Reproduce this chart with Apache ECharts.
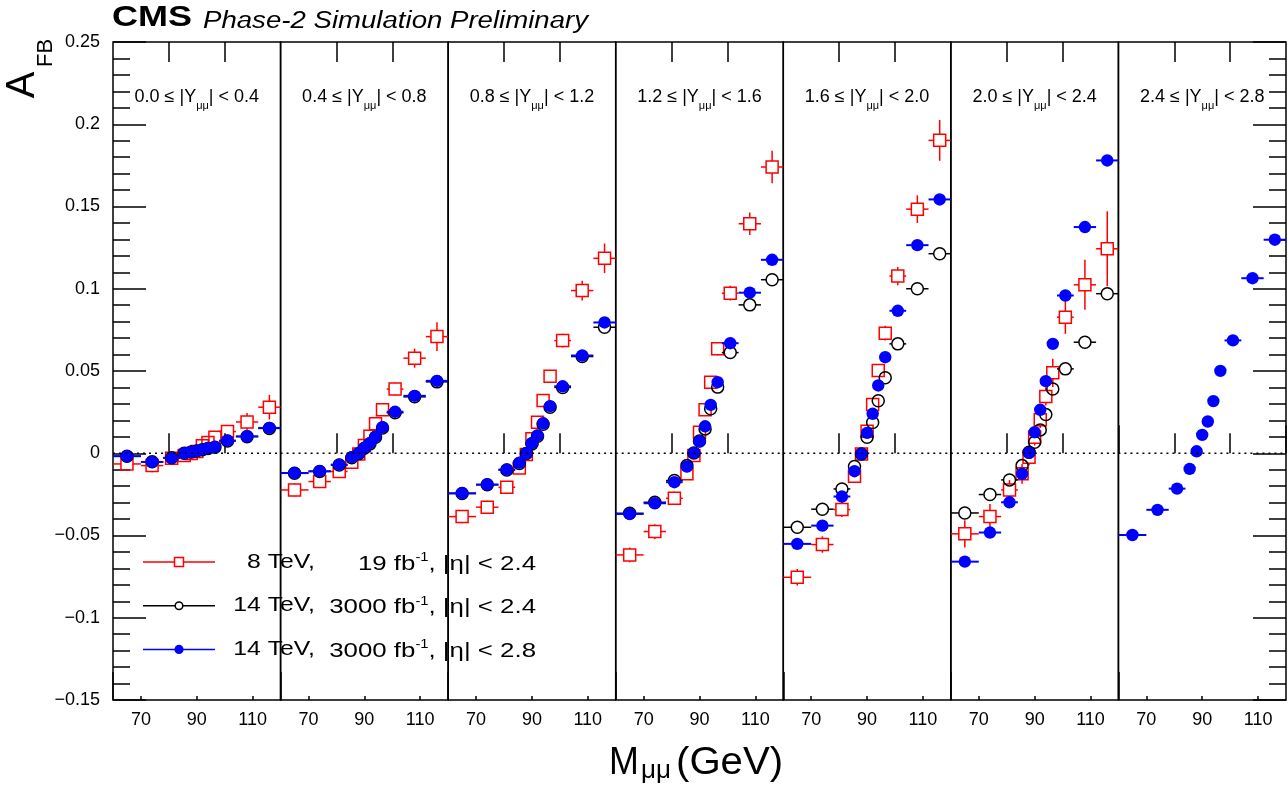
<!DOCTYPE html>
<html>
<head>
<meta charset="utf-8">
<title>CMS Phase-2 AFB</title>
<script src="https://cdn.jsdelivr.net/npm/echarts@6/dist/echarts.min.js"></script>
<style>
  html, body { margin: 0; padding: 0; background: #fff; }
  #chart { width: 1288px; height: 788px; }
</style>
</head>
<body>
<div id="chart"></div>
<script>
// mass binning, identical in every rapidity slice
var massEdges = [60, 70, 78, 84, 87, 89, 91, 93, 95, 98, 104, 112, 120];
var massCenters = [65, 74, 81, 85.5, 88, 90, 92, 94, 96.5, 101, 108, 116];

// rapidity slices
var rapLow = ['0.0', '0.4', '0.8', '1.2', '1.6', '2.0', '2.4'];
var rapHigh = ['0.4', '0.8', '1.2', '1.6', '2.0', '2.4', '2.8'];

// 8 TeV, 19 fb-1, |eta| < 2.4 (slices 1-6)
var afb8 = [
  [-0.0065, -0.0075, -0.0030, -0.0014, -0.0002, 0.0010, 0.0045, 0.0065, 0.0098, 0.0132, 0.0190, 0.0280],
  [-0.0223, -0.0172, -0.0111, -0.0055, -0.0004, 0.0047, 0.0103, 0.0179, 0.0264, 0.0390, 0.0578, 0.0709],
  [-0.0385, -0.0328, -0.0207, -0.0089, -0.0008, 0.0088, 0.0189, 0.0320, 0.0468, 0.0685, 0.0989, 0.1185],
  [-0.0618, -0.0476, -0.0274, -0.0125, -0.0014, 0.0128, 0.0264, 0.0432, 0.0635, 0.0973, 0.1395, 0.1740],
  [-0.0754, -0.0555, -0.0342, -0.0140, -0.0004, 0.0134, 0.0296, 0.0503, 0.0730, 0.1077, 0.1484, 0.1902],
  [-0.0490, -0.0385, -0.0223, -0.0125, -0.0024, 0.0097, 0.0203, 0.0345, 0.0489, 0.0827, 0.1024, 0.1243]
];
var afb8Err = [
  [0.0040, 0.0040, 0.0035, 0.0035, 0.0035, 0.0035, 0.0035, 0.0035, 0.0035, 0.0040, 0.0055, 0.0075],
  [0.0040, 0.0040, 0.0035, 0.0035, 0.0035, 0.0035, 0.0035, 0.0035, 0.0035, 0.0040, 0.0058, 0.0088],
  [0.0040, 0.0040, 0.0035, 0.0035, 0.0035, 0.0035, 0.0035, 0.0035, 0.0035, 0.0042, 0.0060, 0.0090],
  [0.0045, 0.0045, 0.0040, 0.0035, 0.0035, 0.0035, 0.0035, 0.0035, 0.0040, 0.0045, 0.0068, 0.0099],
  [0.0050, 0.0050, 0.0045, 0.0040, 0.0040, 0.0040, 0.0040, 0.0040, 0.0045, 0.0055, 0.0084, 0.0124],
  [0.0083, 0.0076, 0.0060, 0.0060, 0.0050, 0.0050, 0.0050, 0.0055, 0.0086, 0.0101, 0.0152, 0.0228]
];

// 14 TeV, 3000 fb-1, |eta| < 2.4 (slices 1-6)
var afb14 = [
  [-0.0018, -0.0052, -0.0027, 0.0000, 0.0007, 0.0014, 0.0021, 0.0029, 0.0037, 0.0075, 0.0101, 0.0151],
  [-0.0122, -0.0111, -0.0072, -0.0027, -0.0003, 0.0030, 0.0057, 0.0097, 0.0153, 0.0246, 0.0343, 0.0434],
  [-0.0245, -0.0192, -0.0102, -0.0062, -0.0002, 0.0057, 0.0103, 0.0176, 0.0280, 0.0400, 0.0588, 0.0766],
  [-0.0365, -0.0298, -0.0166, -0.0075, 0.0002, 0.0075, 0.0148, 0.0270, 0.0402, 0.0612, 0.0902, 0.1055],
  [-0.0450, -0.0340, -0.0217, -0.0081, -0.0004, 0.0097, 0.0187, 0.0319, 0.0459, 0.0665, 0.1000, 0.1213],
  [-0.0363, -0.0251, -0.0162, -0.0075, 0.0006, 0.0067, 0.0142, 0.0235, 0.0391, 0.0513, 0.0675, 0.0970]
];

// 14 TeV, 3000 fb-1, |eta| < 2.8 (slices 1-7)
var afb14Wide = [
  [-0.0018, -0.0053, -0.0028, 0.0000, 0.0008, 0.0015, 0.0022, 0.0030, 0.0038, 0.0077, 0.0103, 0.0154],
  [-0.0120, -0.0109, -0.0069, -0.0024, 0.0000, 0.0033, 0.0061, 0.0101, 0.0158, 0.0252, 0.0349, 0.0440],
  [-0.0243, -0.0190, -0.0099, -0.0058, 0.0000, 0.0061, 0.0108, 0.0182, 0.0286, 0.0407, 0.0594, 0.0795],
  [-0.0369, -0.0304, -0.0176, -0.0081, 0.0002, 0.0073, 0.0164, 0.0294, 0.0432, 0.0669, 0.0976, 0.1176],
  [-0.0551, -0.0440, -0.0263, -0.0109, -0.0004, 0.0124, 0.0240, 0.0412, 0.0584, 0.0866, 0.1265, 0.1543],
  [-0.0659, -0.0482, -0.0298, -0.0125, 0.0002, 0.0128, 0.0264, 0.0438, 0.0665, 0.0959, 0.1375, 0.1780],
  [-0.0497, -0.0344, -0.0215, -0.0095, 0.0012, 0.0112, 0.0193, 0.0317, 0.0501, 0.0686, 0.1064, 0.1298]
];

// axis ticks / labels
var xLabelValues = [70, 90, 110];
var xTickValues = [80, 100];
var xEdgeValues = [60, 120];
var yMin = -0.15, yMax = 0.25, yStep = 0.05;

// legend text
var legEnergy = ['8 TeV,', '14 TeV,', '14 TeV,'];
var legLumi = ['19', '3000', '3000'];
var legEta = ['2.4', '2.4', '2.8'];

var FONT = 'Liberation Sans, Arial, Helvetica, sans-serif';
var RED = '#ff0000', BLACK = '#000000', BLUE = '#0000ff';

var chart = echarts.init(document.getElementById('chart'), null, { renderer: 'canvas' });

var L = 113, R = 1286, T = 42, B = 700;
var W = (R - L) / 7;
var nPanel = rapLow.length;

function pointData(vals, errs) {
  return massCenters.map(function (m, k) {
    return [m, vals[k], massEdges[k], massEdges[k + 1], errs ? errs[k] : 0];
  });
}

// marker + error bars, ROOT style (bars stop at open markers)
function makeRender(kind, color) {
  return function (params, api) {
    var p = api.coord([api.value(0), api.value(1)]);
    var xl = api.coord([api.value(2), api.value(1)])[0];
    var xh = api.coord([api.value(3), api.value(1)])[0];
    var yt = api.coord([api.value(0), api.value(1) + api.value(4)])[1];
    var yb = api.coord([api.value(0), api.value(1) - api.value(4)])[1];
    var h = kind === 'dot' ? 0 : 6;
    var st = { stroke: color, lineWidth: kind === 'dot' ? 2 : 1.5 };
    var kids = [];
    if (xl < p[0] - h) kids.push({ type: 'line', shape: { x1: xl, y1: p[1], x2: p[0] - h, y2: p[1] }, style: st });
    if (xh > p[0] + h) kids.push({ type: 'line', shape: { x1: p[0] + h, y1: p[1], x2: xh, y2: p[1] }, style: st });
    if (yt < p[1] - h) kids.push({ type: 'line', shape: { x1: p[0], y1: p[1] - h, x2: p[0], y2: yt }, style: st });
    if (yb > p[1] + h) kids.push({ type: 'line', shape: { x1: p[0], y1: p[1] + h, x2: p[0], y2: yb }, style: st });
    if (kind === 'square') {
      kids.push({ type: 'rect', shape: { x: p[0] - 6, y: p[1] - 6, width: 12, height: 12 },
        style: { stroke: color, lineWidth: 1.5, fill: 'none' } });
    } else if (kind === 'ring') {
      kids.push({ type: 'circle', shape: { cx: p[0], cy: p[1], r: 6 },
        style: { stroke: color, lineWidth: 1.5, fill: 'none' } });
    } else {
      kids.push({ type: 'circle', shape: { cx: p[0], cy: p[1], r: 6.2 }, style: { fill: color } });
    }
    return { type: 'group', children: kids };
  };
}

var grids = [], xAxes = [], yAxes = [], series = [], graphics = [];
var tickStyle = { color: '#000', width: 1.5 };

for (var i = 0; i < nPanel; i++) {
  grids.push({
    left: L + i * W, width: W, top: T, height: B - T,
    show: true, borderColor: '#000', borderWidth: 1.5, backgroundColor: 'transparent',
    containLabel: false, outerBoundsMode: 'none'
  });

  var xMain = xAxes.length;
  var baseX = { gridIndex: i, type: 'value', min: massEdges[0], max: massEdges[massEdges.length - 1],
    axisLine: { show: false }, splitLine: { show: false } };
  xAxes.push(Object.assign({}, baseX, {
    position: 'bottom',
    axisTick: { show: true, inside: true, length: 20, customValues: xTickValues, lineStyle: tickStyle },
    axisLabel: { show: true, customValues: xLabelValues, color: '#000', fontSize: 18, fontFamily: FONT, margin: 11 }
  }));
  xAxes.push(Object.assign({}, baseX, {
    position: 'bottom',
    axisTick: { show: true, inside: true, length: 28, customValues: xEdgeValues, lineStyle: tickStyle },
    axisLabel: { show: false }
  }));
  xAxes.push(Object.assign({}, baseX, {
    position: 'bottom',
    axisTick: { show: true, inside: true, length: 4, customValues: xLabelValues, lineStyle: tickStyle },
    axisLabel: { show: false }
  }));
  xAxes.push(Object.assign({}, baseX, {
    position: 'top',
    axisTick: { show: true, inside: true, length: 20, customValues: xTickValues, lineStyle: tickStyle },
    axisLabel: { show: false }
  }));

  var yMainIdx = yAxes.length;
  var first = i === 0;
  yAxes.push({
    gridIndex: i, type: 'value', min: yMin, max: yMax, interval: yStep, position: 'left',
    axisLine: { show: false }, splitLine: { show: false },
    axisTick: { show: first, inside: true, length: 33, lineStyle: tickStyle },
    minorTick: { show: first, splitNumber: 5, length: 17, lineStyle: tickStyle },
    axisLabel: {
      show: first, color: '#000', fontSize: 18, fontFamily: FONT, margin: 13,
      formatter: function (v) {
        var s = String(parseFloat(Math.abs(v).toFixed(3)));
        return v < -1e-9 ? '\u2212' + s : s;
      }
    }
  });
  if (i === nPanel - 1) {
    yAxes.push({
      gridIndex: i, type: 'value', min: yMin, max: yMax, interval: yStep, position: 'right',
      axisLine: { show: false }, splitLine: { show: false },
      axisTick: { show: true, inside: true, length: 33, lineStyle: tickStyle },
      minorTick: { show: true, splitNumber: 5, length: 17, lineStyle: tickStyle },
      axisLabel: { show: false }
    });
  }

  // A_FB = 0 reference
  series.push({
    type: 'line', xAxisIndex: xMain, yAxisIndex: yMainIdx, silent: true, symbol: 'none',
    data: [[massEdges[0], 0], [massEdges[massEdges.length - 1], 0]],
    lineStyle: { color: '#000', width: 1.6, type: [2, 4] }
  });
  if (i < afb8.length) {
    series.push({ type: 'custom', name: '8 TeV', xAxisIndex: xMain, yAxisIndex: yMainIdx,
      renderItem: makeRender('square', RED), data: pointData(afb8[i], afb8Err[i]), encode: { x: 0, y: 1 } });
    series.push({ type: 'custom', name: '14 TeV |eta|<2.4', xAxisIndex: xMain, yAxisIndex: yMainIdx,
      renderItem: makeRender('ring', BLACK), data: pointData(afb14[i]), encode: { x: 0, y: 1 } });
  }
  series.push({ type: 'custom', name: '14 TeV |eta|<2.8', xAxisIndex: xMain, yAxisIndex: yMainIdx,
    renderItem: makeRender('dot', BLUE), data: pointData(afb14Wide[i]), encode: { x: 0, y: 1 } });

  // slice label
  graphics.push({
    type: 'text', x: L + (i + 0.5) * W, y: 97,
    style: {
      text: '{a|' + rapLow[i] + ' \u2264 |Y}{s|\u03bc\u03bc}{a|| < ' + rapHigh[i] + '}',
      align: 'center', verticalAlign: 'middle',
      rich: {
        a: { fontSize: 18, fontFamily: FONT, fill: '#000', lineHeight: 28 },
        s: { fontSize: 11, fontFamily: FONT, fill: '#000', lineHeight: 11, verticalAlign: 'bottom' }
      }
    }
  });
}

// legend
var legKinds = ['square', 'ring', 'dot'];
var legColors = [RED, BLACK, BLUE];
for (var j = 0; j < 3; j++) {
  var ly = 562 + j * 43.7;
  graphics.push({ type: 'line', shape: { x1: 143, y1: ly, x2: 215, y2: ly },
    style: { stroke: legColors[j], lineWidth: 1.5 } });
  if (legKinds[j] === 'square') {
    graphics.push({ type: 'rect', shape: { x: 174.5, y: ly - 4.5, width: 9, height: 9 },
      style: { stroke: RED, lineWidth: 1.5, fill: '#fff' } });
  } else if (legKinds[j] === 'ring') {
    graphics.push({ type: 'circle', shape: { cx: 179, cy: ly, r: 3.8 },
      style: { stroke: BLACK, lineWidth: 1.5, fill: '#fff' } });
  } else {
    graphics.push({ type: 'circle', shape: { cx: 179, cy: ly, r: 4.6 }, style: { fill: BLUE } });
  }
  graphics.push({ type: 'text', x: 315, y: ly, scaleX: 1.18,
    style: { text: legEnergy[j], align: 'right', verticalAlign: 'middle',
      fontSize: 21, fontFamily: FONT, fill: '#000' } });
  graphics.push({ type: 'text', x: 536, y: ly + 2, scaleX: 1.23,
    style: {
      text: '{a|' + legLumi[j] + ' fb}{p|-1}{a|, |\u03b7| < ' + legEta[j] + '}',
      align: 'right', verticalAlign: 'middle',
      rich: {
        a: { fontSize: 21, fontFamily: FONT, fill: '#000', lineHeight: 25 },
        p: { fontSize: 12, fontFamily: FONT, fill: '#000', lineHeight: 12, verticalAlign: 'top' }
      }
    } });
}

// titles
graphics.push({ type: 'text', x: 112, y: 18, scaleX: 1.2,
  style: { text: 'CMS', fontSize: 30, fontWeight: 'bold', fontFamily: FONT, fill: '#000',
    align: 'left', verticalAlign: 'middle' } });
graphics.push({ type: 'text', x: 203, y: 21.3, scaleX: 1.2,
  style: { text: 'Phase-2 Simulation Preliminary', fontSize: 23, fontStyle: 'italic', fontFamily: FONT,
    fill: '#000', align: 'left', verticalAlign: 'middle' } });

graphics.push({ type: 'text', x: 23, y: 85, rotation: Math.PI / 2,
  style: { text: 'A', fontSize: 40, fontFamily: FONT, fill: '#000', align: 'center', verticalAlign: 'middle' } });
graphics.push({ type: 'text', x: 46, y: 53, rotation: Math.PI / 2,
  style: { text: 'FB', fontSize: 22, fontFamily: FONT, fill: '#000', align: 'center', verticalAlign: 'middle' } });

graphics.push({ type: 'text', x: 609, y: 763.5, scaleX: 0.92,
  style: { text: 'M', fontSize: 39, fontFamily: FONT, fill: '#000', align: 'left', verticalAlign: 'middle' } });
graphics.push({ type: 'text', x: 641, y: 771,
  style: { text: '\u03bc\u03bc', fontSize: 26, fontFamily: FONT, fill: '#000', align: 'left', verticalAlign: 'middle' } });
graphics.push({ type: 'text', x: 676, y: 763.5, scaleX: 1.03,
  style: { text: '(GeV)', fontSize: 39, fontFamily: FONT, fill: '#000', align: 'left', verticalAlign: 'middle' } });

chart.setOption({
  animation: false,
  backgroundColor: '#fff',
  textStyle: { fontFamily: FONT },
  grid: grids,
  xAxis: xAxes,
  yAxis: yAxes,
  series: series,
  graphic: graphics
});
</script>
</body>
</html>
